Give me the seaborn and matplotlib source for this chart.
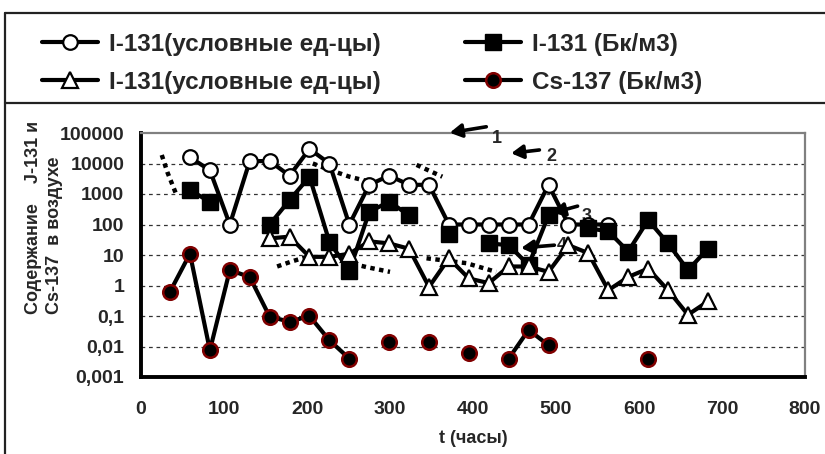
import numpy as np
import pandas as pd
import matplotlib
matplotlib.use("Agg")
import matplotlib.pyplot as plt
from matplotlib.lines import Line2D
from matplotlib.ticker import FixedLocator, FixedFormatter, LogLocator, MultipleLocator, NullFormatter
import seaborn as sns

sns.set_style("white")
plt.rcParams['font.family'] = ['Liberation Sans', 'DejaVu Sans']
plt.rcParams['font.weight'] = 'bold'

nan = np.nan

# sampling times, hours
hours = [35, 59, 83, 107, 131, 155, 179, 203, 227, 251, 275, 299, 323, 347,
         371, 395, 419, 443, 467, 491, 515, 539, 563, 587, 611, 635, 659, 683]

# I-131, relative units (circles)
i131_rel_a = [nan, 16000, 6000, 100, 12000, 12000, 4000, 30000, 10000, 100,
              2000, 4000, 2000, 2000, 100, 100, 100, 100, 100, 2000,
              100, 100, 100, nan, nan, nan, nan, nan]
# I-131, Bq/m3 (squares)
i131_bq = [nan, 1350, 550, nan, nan, 100, 630, 3700, 27, 3,
           260, 560, 200, nan, 50, nan, 24, 21, 4.7, 200,
           nan, 75, 60, 13, 140, 24, 3.2, 16]
# I-131, relative units (triangles)
i131_rel_b = [nan, nan, nan, nan, nan, 35, 40, 8.7, 8.7, 11,
              28, 24, 16, 0.9, 7.8, 1.7, 1.2, 4.2, 4.2, 2.8,
              21, 11.5, 0.7, 1.9, 3.6, 0.7, 0.11, 0.3]
# Cs-137, Bq/m3
cs137_bq = [0.63, 11, 0.0075, 3.2, 1.9, 0.095, 0.065, 0.1, 0.016, 0.004,
            nan, 0.0145, nan, 0.0145, nan, 0.006, nan, 0.004, 0.035, 0.011,
            nan, nan, nan, nan, 0.004, nan, nan, nan]

# dotted trend pieces (hours, value)
trends = [
    ([25, 32, 42], [19000, 5000, 1050]),
    ([164, 182, 200], [4.2, 6.2, 8.7]),
    ([207, 227, 251, 276], [10000, 6200, 3700, 2500]),
    ([245, 272, 300], [6, 4, 2.8]),
    ([332, 363], [9000, 3700]),
    ([344, 392, 428], [7.8, 5.4, 2.8]),
]

labels = ["I-131(условные ед-цы)", "I-131 (Бк/м3)",
          "I-131(условные ед-цы)", "Cs-137 (Бк/м3)"]
ytick_vals = [0.001, 0.01, 0.1, 1, 10, 100, 1000, 10000, 100000]
ytick_labels = ["0,001", "0,01", "0,1", "1", "10", "100", "1000", "10000", "100000"]
xtick_vals = [0, 100, 200, 300, 400, 500, 600, 700, 800]


def segmented(x, y):
    """Split a series at missing values so gaps stay open."""
    rows, seg, prev_nan = [], 0, False
    for xi, yi in zip(x, y):
        if yi is None or (isinstance(yi, float) and np.isnan(yi)):
            if not prev_nan:
                seg += 1
            prev_nan = True
            continue
        prev_nan = False
        rows.append((xi, yi, seg))
    return pd.DataFrame(rows, columns=["t", "v", "seg"])


W, H = 825, 454
fig = plt.figure(figsize=(W / 100, H / 100), dpi=100)
ax = fig.add_axes([141 / W, 1 - 377 / H, 664 / W, 244 / H])
ax.set_yscale("log")

LW = 3.0
styles = [
    dict(marker="o", markersize=10.5, markerfacecolor="white", markeredgecolor="black", markeredgewidth=1.6),
    dict(marker="s", markersize=12, markerfacecolor="black", markeredgecolor="black", markeredgewidth=1.0),
    dict(marker="^", markersize=11.5, markerfacecolor="white", markeredgecolor="black", markeredgewidth=1.6),
    dict(marker="o", markersize=10.5, markerfacecolor="black", markeredgecolor="#800000", markeredgewidth=1.8),
]
series = [i131_rel_a, i131_bq, i131_rel_b, cs137_bq]

# dotted trend pieces under the series
for tx, ty in trends:
    ax.plot(tx, ty, color="black", lw=3.2, linestyle=(0, (1, 1)), dash_capstyle="butt", zorder=2.2)

for k, (vals, st) in enumerate(zip(series, styles)):
    df = segmented(hours, vals)
    sns.lineplot(data=df, x="t", y="v", units="seg", estimator=None, sort=False,
                 color="black", lw=LW, ax=ax, legend=False, zorder=3 + k, **st)

ax.set_xlim(0, 800)
ax.set_ylim(0.001, 100000)
ax.xaxis.set_major_locator(FixedLocator(xtick_vals))
ax.xaxis.set_minor_locator(MultipleLocator(20))
ax.yaxis.set_major_locator(FixedLocator(ytick_vals))
ax.yaxis.set_major_formatter(FixedFormatter(ytick_labels))
ax.yaxis.set_minor_locator(LogLocator(base=10, subs=np.arange(2, 10)))
ax.yaxis.set_minor_formatter(NullFormatter())

ax.tick_params(axis="both", which="major", direction="out", length=6, width=2.2,
               labelsize=14, color="black", pad=6)
ax.tick_params(axis="both", which="minor", direction="out", length=4, width=2.0, color="black")
ax.tick_params(axis="x", which="major", pad=11)
for lab in ax.get_xticklabels() + ax.get_yticklabels():
    lab.set_fontweight("bold")

ax.grid(False)
for yv in ytick_vals[1:-1]:
    ax.axhline(yv, color="#333333", lw=0.9, linestyle=(0, (3, 3)), zorder=1)

for side in ["left", "bottom"]:
    ax.spines[side].set_color("black")
    ax.spines[side].set_linewidth(2.8)
for side in ["top", "right"]:
    ax.spines[side].set_color("#808080")
    ax.spines[side].set_linewidth(1.6)
ax.spines["top"].set_visible(True)
ax.spines["right"].set_visible(True)

ax.set_xlabel("t (часы)", fontsize=13, fontweight="bold", labelpad=9)
ax.set_ylabel("Содержание    J-131 и\nCs-137  в воздухе", fontsize=13,
              fontweight="bold", multialignment="left", linespacing=1.3)
ax.yaxis.set_label_coords(-0.118, 0.26)
ax.yaxis.label.set_verticalalignment("bottom")
ax.yaxis.label.set_horizontalalignment("left")

# numbered arrows
arrow = dict(arrowstyle="-|>,head_length=0.7,head_width=0.4", color="black", lw=2.6, shrinkA=0, shrinkB=0)
ax.annotate("", xy=(372, 102000), xytext=(416, 160000), arrowprops=arrow, annotation_clip=False, zorder=8)
ax.text(429, 67000, "1", fontsize=13, fontweight="bold", ha="center", va="center", zorder=8)
ax.annotate("", xy=(446, 21600), xytext=(480, 27800), arrowprops=arrow, annotation_clip=False, zorder=8)
ax.text(494, 16700, "2", fontsize=13, fontweight="bold", ha="center", va="center", zorder=8)
ax.annotate("", xy=(496, 240), xytext=(526, 400), arrowprops=arrow, zorder=2.5)
ax.text(537, 180, "3", fontsize=13, fontweight="bold", ha="center", va="center", zorder=2.5)
ax.annotate("", xy=(458, 17), xytext=(498, 21), arrowprops=arrow, zorder=2.5)
ax.text(507, 21, "4", fontsize=13, fontweight="bold", ha="center", va="center", zorder=2.5)

# legend, two columns
handles = [Line2D([], [], color="black", lw=LW, **st) for st in styles]
leg_kw = dict(frameon=False, handlelength=2.3, handletextpad=0.45,
              labelspacing=0.6, borderpad=0, borderaxespad=0, numpoints=1,
              loc="upper left", bbox_transform=fig.transFigure,
              prop=dict(weight="bold", size=17.5))
leg1 = fig.legend([handles[0], handles[2]], [labels[0], labels[2]],
                  bbox_to_anchor=(42 / W, 1 - 33 / H), **leg_kw)
leg2 = fig.legend([handles[1], handles[3]], [labels[1], labels[3]],
                  bbox_to_anchor=(465 / W, 1 - 33 / H), **leg_kw)

# outer frame
frame_kw = dict(transform=fig.transFigure, color="#222222", lw=1.6)
fig.add_artist(Line2D([5 / W, 1], [1 - 13 / H, 1 - 13 / H], **frame_kw))
fig.add_artist(Line2D([5 / W, 5 / W], [0, 1 - 13 / H], **frame_kw))
fig.add_artist(Line2D([5 / W, 1], [1 - 103 / H, 1 - 103 / H], **frame_kw))

fig.savefig("out.png", dpi=100)
